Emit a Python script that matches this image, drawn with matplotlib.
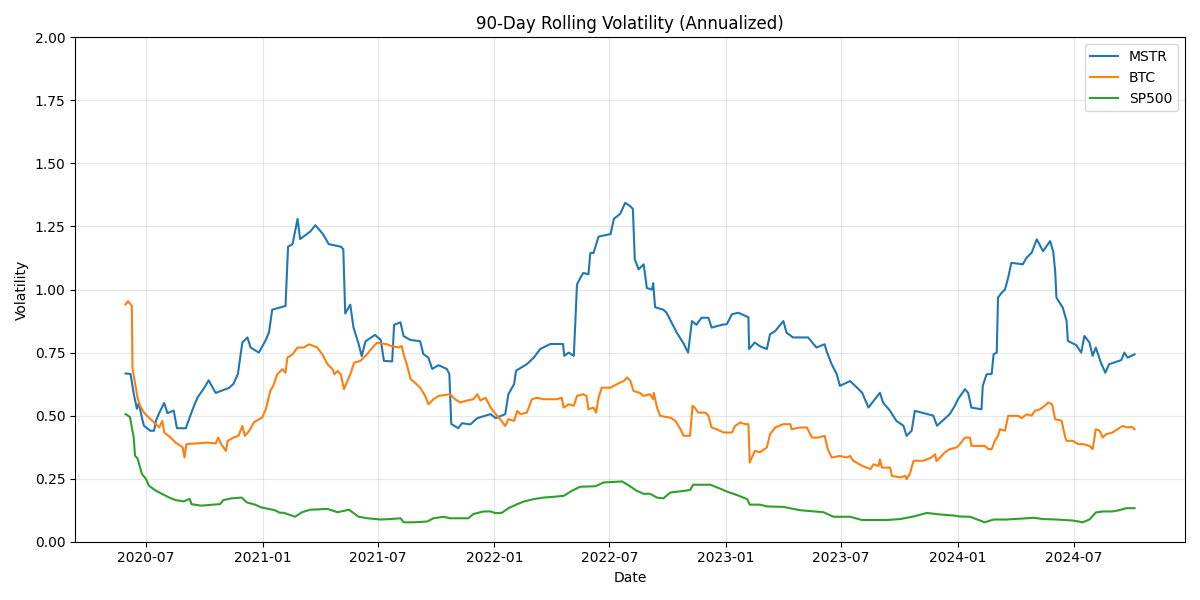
import matplotlib
matplotlib.use('Agg')
import matplotlib.pyplot as plt
import matplotlib.dates as mdates
import pandas as pd

# 90-day rolling volatility
mstr_dates = [
    '2020-05-30', '2020-06-07', '2020-06-12', '2020-06-17', '2020-06-20', '2020-06-25', '2020-06-28',
    '2020-07-08', '2020-07-14', '2020-07-17', '2020-07-22', '2020-07-30', '2020-08-04', '2020-08-14',
    '2020-08-19', '2020-09-02', '2020-09-12', '2020-09-20', '2020-10-01', '2020-10-08', '2020-10-19',
    '2020-11-09', '2020-11-16', '2020-11-23', '2020-11-30', '2020-12-08', '2020-12-13', '2020-12-26',
    '2021-01-06', '2021-01-11', '2021-01-16', '2021-02-06', '2021-02-10', '2021-02-17', '2021-02-25',
    '2021-03-01', '2021-03-17', '2021-03-25', '2021-04-06', '2021-04-15', '2021-05-04', '2021-05-08',
    '2021-05-11', '2021-05-19', '2021-05-24', '2021-06-01', '2021-06-06', '2021-06-12', '2021-06-27',
    '2021-07-06', '2021-07-11', '2021-07-24', '2021-07-27', '2021-08-06', '2021-08-11', '2021-08-22',
    '2021-09-06', '2021-09-11', '2021-09-19', '2021-09-25', '2021-10-05', '2021-10-18', '2021-10-22',
    '2021-10-25', '2021-11-05', '2021-11-11', '2021-11-24', '2021-12-05', '2021-12-26', '2022-01-03',
    '2022-01-18', '2022-01-23', '2022-02-01', '2022-02-04', '2022-02-21', '2022-03-04', '2022-03-14',
    '2022-03-30', '2022-04-19', '2022-04-21', '2022-04-28', '2022-05-06', '2022-05-11', '2022-05-16',
    '2022-05-21', '2022-05-29', '2022-06-01', '2022-06-06', '2022-06-14', '2022-07-03', '2022-07-08',
    '2022-07-18', '2022-07-26', '2022-08-03', '2022-08-07', '2022-08-10', '2022-08-16', '2022-08-24',
    '2022-08-29', '2022-09-06', '2022-09-08', '2022-09-11', '2022-09-24', '2022-09-29', '2022-10-15',
    '2022-10-26', '2022-11-02', '2022-11-08', '2022-11-15', '2022-11-23', '2022-12-04', '2022-12-09',
    '2022-12-25', '2023-01-02', '2023-01-10', '2023-01-20', '2023-02-05', '2023-02-06', '2023-02-15',
    '2023-02-23', '2023-03-06', '2023-03-11', '2023-03-19', '2023-04-01', '2023-04-06', '2023-04-16',
    '2023-05-10', '2023-05-23', '2023-06-05', '2023-06-08', '2023-06-16', '2023-06-24', '2023-06-29',
    '2023-07-15', '2023-07-26', '2023-08-03', '2023-08-13', '2023-08-31', '2023-09-05', '2023-09-16',
    '2023-09-26', '2023-10-07', '2023-10-12', '2023-10-20', '2023-10-25', '2023-11-23', '2023-11-29',
    '2023-12-19', '2023-12-27', '2024-01-01', '2024-01-12', '2024-01-17', '2024-01-22', '2024-02-07',
    '2024-02-09', '2024-02-15', '2024-02-23', '2024-02-26', '2024-03-02', '2024-03-04', '2024-03-09',
    '2024-03-15', '2024-03-20', '2024-03-25', '2024-04-12', '2024-04-18', '2024-04-26', '2024-05-04',
    '2024-05-14', '2024-05-25', '2024-05-30', '2024-06-02', '2024-06-04', '2024-06-14', '2024-06-20',
    '2024-06-22', '2024-07-05', '2024-07-13', '2024-07-18', '2024-07-26', '2024-07-31', '2024-08-05',
    '2024-08-13', '2024-08-20', '2024-08-26', '2024-09-14', '2024-09-19', '2024-09-24', '2024-10-05',
]
mstr_vol = [
    0.667, 0.665, 0.586, 0.527, 0.55, 0.49, 0.46,
    0.44, 0.44, 0.48, 0.51, 0.55, 0.51, 0.52,
    0.45, 0.45, 0.52, 0.57, 0.61, 0.64, 0.59,
    0.61, 0.626, 0.665, 0.79, 0.81, 0.77, 0.75,
    0.80, 0.83, 0.92, 0.935, 1.17, 1.18, 1.28,
    1.20, 1.23, 1.255, 1.22, 1.18, 1.17, 1.16,
    0.905, 0.94, 0.85, 0.785, 0.736, 0.795, 0.82,
    0.80, 0.717, 0.715, 0.86, 0.87, 0.815, 0.80,
    0.795, 0.744, 0.73, 0.685, 0.70, 0.685, 0.665,
    0.467, 0.45, 0.47, 0.465, 0.49, 0.506, 0.49,
    0.506, 0.585, 0.625, 0.678, 0.704, 0.73, 0.764,
    0.784, 0.784, 0.737, 0.75, 0.737, 1.02, 1.045,
    1.066, 1.06, 1.145, 1.145, 1.21, 1.22, 1.28,
    1.30, 1.344, 1.33, 1.32, 1.12, 1.08, 1.10,
    1.006, 1.00, 1.025, 0.93, 0.92, 0.908, 0.83,
    0.785, 0.75, 0.875, 0.86, 0.888, 0.888, 0.849,
    0.86, 0.863, 0.902, 0.908, 0.89, 0.764, 0.79,
    0.775, 0.764, 0.823, 0.835, 0.875, 0.829, 0.81,
    0.81, 0.77, 0.783, 0.756, 0.704, 0.665, 0.618,
    0.637, 0.611, 0.591, 0.532, 0.591, 0.552, 0.519,
    0.479, 0.46, 0.42, 0.44, 0.519, 0.50, 0.46,
    0.506, 0.539, 0.565, 0.605, 0.59, 0.532, 0.525,
    0.618, 0.664, 0.665, 0.743, 0.75, 0.968, 0.985,
    1.00, 1.047, 1.106, 1.10, 1.126, 1.146, 1.199,
    1.152, 1.192, 1.15, 1.073, 0.968, 0.928, 0.875,
    0.796, 0.78, 0.75, 0.816, 0.79, 0.737, 0.77,
    0.71, 0.67, 0.704, 0.72, 0.75, 0.73, 0.743,
]

btc_dates = [
    '2020-05-30', '2020-06-03', '2020-06-09', '2020-06-10', '2020-06-13', '2020-06-18', '2020-06-22',
    '2020-06-28', '2020-07-06', '2020-07-14', '2020-07-22', '2020-07-27', '2020-07-30', '2020-08-09',
    '2020-08-17', '2020-08-28', '2020-08-31', '2020-09-03', '2020-10-06', '2020-10-19', '2020-10-23',
    '2020-10-27', '2020-11-04', '2020-11-07', '2020-11-16', '2020-11-24', '2020-11-30', '2020-12-04',
    '2020-12-11', '2020-12-18', '2020-12-31', '2021-01-06', '2021-01-13', '2021-01-18', '2021-01-24',
    '2021-02-01', '2021-02-06', '2021-02-09', '2021-02-17', '2021-02-25', '2021-03-07', '2021-03-15',
    '2021-03-28', '2021-04-05', '2021-04-13', '2021-04-21', '2021-04-24', '2021-04-29', '2021-05-04',
    '2021-05-09', '2021-05-15', '2021-05-20', '2021-05-25', '2021-06-04', '2021-06-15', '2021-06-23',
    '2021-06-30', '2021-07-16', '2021-07-22', '2021-08-03', '2021-08-08', '2021-08-11', '2021-08-16',
    '2021-08-22', '2021-08-27', '2021-09-06', '2021-09-14', '2021-09-19', '2021-09-27', '2021-10-05',
    '2021-10-23', '2021-10-31', '2021-11-08', '2021-11-19', '2021-11-29', '2021-12-05', '2021-12-10',
    '2021-12-18', '2021-12-26', '2022-01-03', '2022-01-10', '2022-01-18', '2022-01-23', '2022-02-01',
    '2022-02-06', '2022-02-11', '2022-02-21', '2022-03-01', '2022-03-09', '2022-03-19', '2022-04-09',
    '2022-04-17', '2022-04-20', '2022-04-28', '2022-05-06', '2022-05-11', '2022-05-21', '2022-05-26',
    '2022-05-29', '2022-06-06', '2022-06-10', '2022-06-14', '2022-06-19', '2022-07-03', '2022-07-13',
    '2022-07-24', '2022-07-29', '2022-08-03', '2022-08-08', '2022-08-18', '2022-08-24', '2022-09-03',
    '2022-09-08', '2022-09-09', '2022-09-14', '2022-09-19', '2022-10-05', '2022-10-13', '2022-10-21',
    '2022-10-26', '2022-11-05', '2022-11-09', '2022-11-13', '2022-11-18', '2022-11-29', '2022-12-04',
    '2022-12-09', '2022-12-17', '2022-12-28', '2023-01-10', '2023-01-15', '2023-01-23', '2023-01-31',
    '2023-02-05', '2023-02-07', '2023-02-15', '2023-02-23', '2023-03-06', '2023-03-11', '2023-03-19',
    '2023-04-01', '2023-04-12', '2023-04-14', '2023-04-27', '2023-05-08', '2023-05-16', '2023-05-26',
    '2023-06-05', '2023-06-10', '2023-06-16', '2023-06-29', '2023-07-10', '2023-07-15', '2023-07-20',
    '2023-08-03', '2023-08-16', '2023-08-21', '2023-08-29', '2023-08-31', '2023-09-03', '2023-09-16',
    '2023-09-19', '2023-10-02', '2023-10-10', '2023-10-12', '2023-10-17', '2023-10-23', '2023-11-07',
    '2023-11-20', '2023-11-26', '2023-11-28', '2023-12-04', '2023-12-11', '2023-12-19', '2023-12-30',
    '2024-01-04', '2024-01-12', '2024-01-20', '2024-01-22', '2024-02-12', '2024-02-18', '2024-02-23',
    '2024-02-28', '2024-03-04', '2024-03-07', '2024-03-15', '2024-03-20', '2024-04-05', '2024-04-10',
    '2024-04-18', '2024-04-26', '2024-05-01', '2024-05-09', '2024-05-17', '2024-05-22', '2024-05-28',
    '2024-06-02', '2024-06-12', '2024-06-18', '2024-06-20', '2024-06-30', '2024-07-08', '2024-07-16',
    '2024-07-26', '2024-07-31', '2024-08-05', '2024-08-11', '2024-08-16', '2024-08-21', '2024-08-31',
    '2024-09-08', '2024-09-16', '2024-09-24', '2024-09-30', '2024-10-05',
]
btc_vol = [
    0.941, 0.954, 0.935, 0.69, 0.644, 0.571, 0.539,
    0.512, 0.492, 0.473, 0.453, 0.479, 0.433, 0.413,
    0.393, 0.374, 0.334, 0.387, 0.393, 0.39, 0.413,
    0.39, 0.36, 0.40, 0.413, 0.42, 0.459, 0.42,
    0.44, 0.473, 0.492, 0.525, 0.598, 0.62, 0.664,
    0.684, 0.67, 0.73, 0.743, 0.77, 0.77, 0.783,
    0.77, 0.743, 0.704, 0.684, 0.664, 0.677, 0.664,
    0.605, 0.64, 0.67, 0.71, 0.717, 0.745, 0.77,
    0.789, 0.783, 0.776, 0.77, 0.776, 0.743, 0.704,
    0.644, 0.635, 0.611, 0.578, 0.545, 0.565, 0.578,
    0.585, 0.565, 0.552, 0.56, 0.565, 0.585, 0.56,
    0.571, 0.532, 0.506, 0.486, 0.459, 0.486, 0.479,
    0.519, 0.506, 0.512, 0.565, 0.571, 0.565, 0.565,
    0.571, 0.532, 0.545, 0.539, 0.578, 0.585, 0.578,
    0.525, 0.532, 0.512, 0.571, 0.611, 0.611, 0.625,
    0.638, 0.651, 0.638, 0.598, 0.59, 0.578, 0.585,
    0.565, 0.59, 0.532, 0.499, 0.492, 0.479, 0.446,
    0.42, 0.42, 0.539, 0.53, 0.512, 0.512, 0.499,
    0.453, 0.446, 0.433, 0.433, 0.459, 0.473, 0.466,
    0.466, 0.314, 0.36, 0.355, 0.374, 0.426, 0.453,
    0.466, 0.466, 0.446, 0.453, 0.453, 0.413, 0.413,
    0.42, 0.367, 0.334, 0.34, 0.334, 0.34, 0.321,
    0.301, 0.288, 0.307, 0.30, 0.327, 0.294, 0.294,
    0.261, 0.255, 0.261, 0.248, 0.268, 0.321, 0.321,
    0.334, 0.347, 0.32, 0.334, 0.354, 0.367, 0.374,
    0.387, 0.413, 0.413, 0.38, 0.38, 0.367, 0.367,
    0.40, 0.42, 0.446, 0.44, 0.499, 0.499, 0.49,
    0.505, 0.50, 0.519, 0.525, 0.54, 0.552, 0.545,
    0.486, 0.48, 0.413, 0.40, 0.40, 0.387, 0.387,
    0.38, 0.367, 0.446, 0.44, 0.413, 0.426, 0.433,
    0.446, 0.459, 0.453, 0.456, 0.446,
]

sp500_dates = [
    '2020-05-30', '2020-06-06', '2020-06-09', '2020-06-12', '2020-06-14', '2020-06-18', '2020-06-22',
    '2020-06-25', '2020-07-01', '2020-07-06', '2020-07-17', '2020-07-27', '2020-08-07', '2020-08-17',
    '2020-08-30', '2020-09-08', '2020-09-11', '2020-09-26', '2020-10-15', '2020-10-26', '2020-10-31',
    '2020-11-13', '2020-11-29', '2020-12-07', '2020-12-20', '2020-12-30', '2021-01-20', '2021-01-28',
    '2021-02-03', '2021-02-21', '2021-03-04', '2021-03-17', '2021-04-13', '2021-04-29', '2021-05-17',
    '2021-06-01', '2021-06-15', '2021-07-06', '2021-07-22', '2021-08-06', '2021-08-11', '2021-08-27',
    '2021-09-17', '2021-09-27', '2021-10-13', '2021-10-23', '2021-11-21', '2021-11-29', '2021-12-15',
    '2021-12-26', '2022-01-03', '2022-01-13', '2022-01-23', '2022-02-06', '2022-02-17', '2022-03-04',
    '2022-03-19', '2022-04-04', '2022-04-20', '2022-05-03', '2022-05-16', '2022-06-09', '2022-06-22',
    '2022-07-21', '2022-07-31', '2022-08-13', '2022-08-24', '2022-09-03', '2022-09-14', '2022-09-24',
    '2022-10-05', '2022-10-21', '2022-11-05', '2022-11-10', '2022-12-07', '2022-12-23', '2023-01-02',
    '2023-01-18', '2023-02-03', '2023-02-07', '2023-02-23', '2023-03-06', '2023-04-01', '2023-04-27',
    '2023-06-03', '2023-06-19', '2023-07-15', '2023-08-03', '2023-09-11', '2023-10-02', '2023-10-23',
    '2023-11-13', '2023-12-04', '2023-12-25', '2024-01-04', '2024-01-20', '2024-02-12', '2024-02-26',
    '2024-03-17', '2024-04-18', '2024-04-29', '2024-05-14', '2024-06-04', '2024-06-30', '2024-07-15',
    '2024-07-26', '2024-08-05', '2024-08-16', '2024-08-31', '2024-09-11', '2024-09-22', '2024-10-05',
]
sp500_vol = [
    0.506, 0.495, 0.453, 0.413, 0.341, 0.33, 0.294,
    0.268, 0.25, 0.222, 0.202, 0.189, 0.175, 0.165,
    0.16, 0.17, 0.149, 0.143, 0.147, 0.149, 0.165,
    0.172, 0.175, 0.156, 0.147, 0.136, 0.125, 0.115,
    0.115, 0.099, 0.117, 0.127, 0.13, 0.117, 0.127,
    0.099, 0.093, 0.088, 0.09, 0.093, 0.077, 0.077,
    0.08, 0.093, 0.099, 0.093, 0.093, 0.11, 0.12,
    0.12, 0.113, 0.115, 0.133, 0.149, 0.16, 0.169,
    0.175, 0.178, 0.182, 0.202, 0.218, 0.22, 0.235,
    0.239, 0.224, 0.202, 0.19, 0.19, 0.175, 0.172,
    0.195, 0.20, 0.205, 0.226, 0.226, 0.21, 0.199,
    0.185, 0.169, 0.147, 0.147, 0.14, 0.138, 0.125,
    0.117, 0.099, 0.099, 0.086, 0.086, 0.09, 0.10,
    0.114, 0.108, 0.104, 0.10, 0.099, 0.077, 0.088,
    0.088, 0.093, 0.095, 0.09, 0.088, 0.084, 0.077,
    0.088, 0.116, 0.12, 0.12, 0.125, 0.133, 0.133,
]

series = [
    ('MSTR', mstr_dates, mstr_vol),
    ('BTC', btc_dates, btc_vol),
    ('SP500', sp500_dates, sp500_vol),
]

fig, ax = plt.subplots(figsize=(12, 6), dpi=100)

for name, dates, vol in series:
    ax.plot(pd.to_datetime(dates), vol, label=name)

ax.set_title('90-Day Rolling Volatility (Annualized)')
ax.set_xlabel('Date')
ax.set_ylabel('Volatility')
ax.set_ylim(0, 2)
ax.xaxis.set_major_locator(mdates.MonthLocator(bymonth=(1, 7)))
ax.xaxis.set_major_formatter(mdates.DateFormatter('%Y-%m'))
ax.grid(True, alpha=0.3)
ax.legend(loc='upper right')

plt.tight_layout()
plt.savefig('out.png', dpi=100)
